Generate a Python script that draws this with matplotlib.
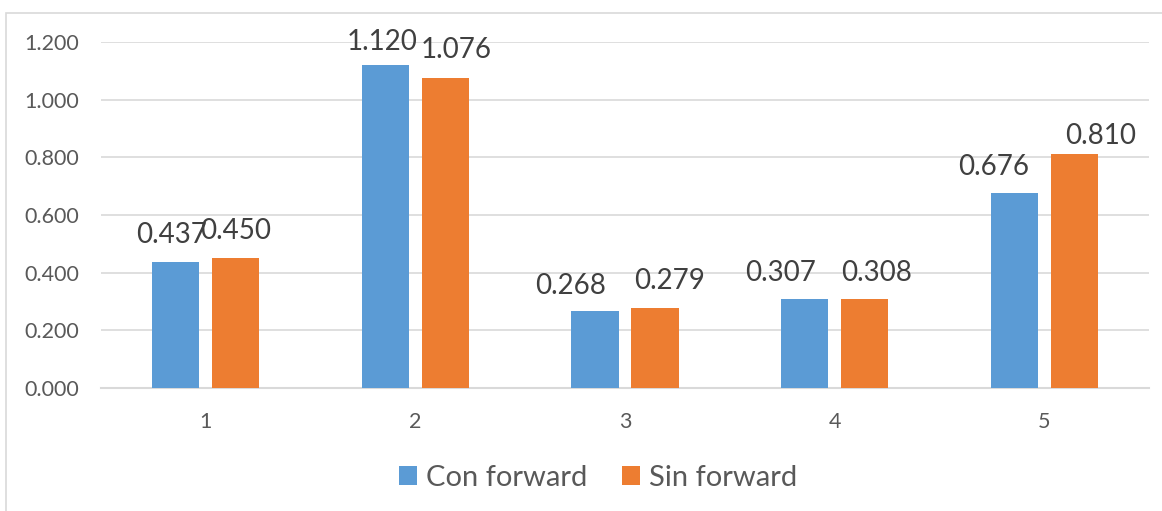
import numpy as np
import matplotlib
matplotlib.use('Agg')
from matplotlib import pyplot as plt
from matplotlib.patches import Rectangle

plt.rcParams['font.family'] = ['Lato', 'DejaVu Sans']

categories = ['1', '2', '3', '4', '5']
con_forward = [0.437, 1.120, 0.268, 0.307, 0.676]
sin_forward = [0.450, 1.076, 0.279, 0.308, 0.810]
y_ticks = [0.0, 0.2, 0.4, 0.6, 0.8, 1.0, 1.2]

# label nudges in pixels (dx, dy above bar top) so neighbouring labels don't collide
con_nudge = [(-4, 19), (-3, 15), (-24, 17), (-24, 18), (-21, 18)]
sin_nudge = [(0, 19), (11, 20), (15, 19), (12, 18), (26, 10)]

blue = '#5B9BD5'
orange = '#ED7D31'
grid_grey = '#D9D9D9'
text_grey = '#595959'

fig = plt.figure(figsize=(11.62, 5.11), dpi=100)
ax = fig.add_axes([0.0869, 0.2407, 0.9019, 0.6771])

# outer chart frame, only the top and left edges fall inside the canvas
fig.patches.append(Rectangle((6 / 1162, -0.05), 1.2, 1 - 13 / 511 + 0.05,
                             transform=fig.transFigure, fill=False,
                             edgecolor=grid_grey, linewidth=1.2, zorder=0))

x = np.arange(len(categories))
width = 0.225
offset = 0.143

b1 = ax.bar(x - offset, con_forward, width, color=blue, label='Con forward', zorder=3)
b2 = ax.bar(x + offset, sin_forward, width, color=orange, label='Sin forward', zorder=3)

px = 72 / 100  # points per pixel
for bars, vals, nudges in ((b1, con_forward, con_nudge), (b2, sin_forward, sin_nudge)):
    for rect, v, (dx, dy) in zip(bars, vals, nudges):
        ax.annotate(f'{v:.3f}', (rect.get_x() + rect.get_width() / 2, v),
                    xytext=(dx * px, dy * px), textcoords='offset points',
                    ha='center', va='baseline', fontsize=20, color='#404040',
                    annotation_clip=False)

ax.set_xlim(-0.5, len(categories) - 0.5)
ax.set_ylim(0, 1.2)
ax.set_yticks(y_ticks)
ax.set_yticklabels([f'{t:.3f}' for t in y_ticks])
ax.set_xticks(x)
ax.set_xticklabels(categories)

ax.yaxis.grid(True, color=grid_grey, linewidth=1.2, zorder=0)
ax.set_axisbelow(True)
for side in ('top', 'right', 'left'):
    ax.spines[side].set_visible(False)
ax.spines['bottom'].set_color(grid_grey)
ax.spines['bottom'].set_linewidth(1.5)

ax.tick_params(axis='y', length=0, pad=16, labelsize=15.5, labelcolor=text_grey)
ax.tick_params(axis='x', length=0, pad=17, labelsize=15.5, labelcolor=text_grey)

leg = fig.legend(handles=[b1, b2], loc='center', bbox_to_anchor=(598 / 1162, 1 - 478 / 511),
                 ncol=2, frameon=False, fontsize=21, handlelength=0.62, handleheight=0.62,
                 handletextpad=0.3, columnspacing=1.2)
for t in leg.get_texts():
    t.set_color(text_grey)

fig.savefig('out.png', dpi=100)
plt.close(fig)
